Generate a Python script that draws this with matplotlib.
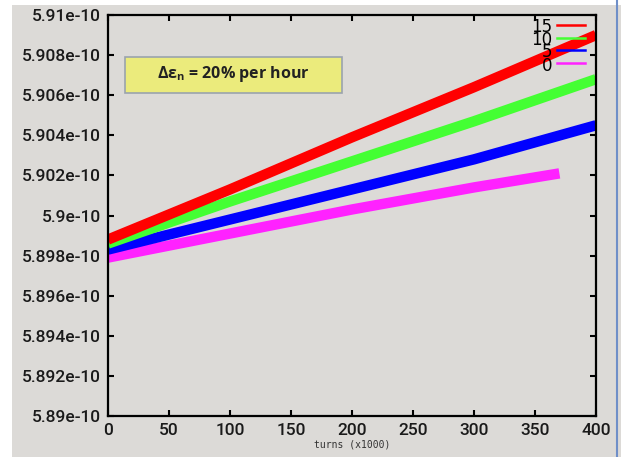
import matplotlib
matplotlib.use("Agg")
import matplotlib.pyplot as plt
from matplotlib.patches import Rectangle
from matplotlib.lines import Line2D
from matplotlib import font_manager

# ---- data (y in units of 1e-10) ----
series_names = ["15", "10", "5", "0"]
series_colors = ["#ff0000", "#44ff33", "#0000ff", "#ff22ff"]

x_15 = [0, 100, 200, 300, 400]
y_15 = [5.8988, 5.9013, 5.9039, 5.9064, 5.9090]
x_10 = [0, 100, 200, 300, 400]
y_10 = [5.8986, 5.9007, 5.9027, 5.9047, 5.9068]
x_5 = [0, 100, 200, 300, 400]
y_5 = [5.8983, 5.8998, 5.9013, 5.9028, 5.9045]
x_0 = [0, 100, 200, 300, 370]
y_0 = [5.8979, 5.8991, 5.9003, 5.9014, 5.9021]

x_ticks = [0, 50, 100, 150, 200, 250, 300, 350, 400]
y_ticks = [5.890, 5.892, 5.894, 5.896, 5.898, 5.900, 5.902, 5.904, 5.906, 5.908, 5.910]
y_tick_labels = ["5.89e-10", "5.892e-10", "5.894e-10", "5.896e-10", "5.898e-10",
                 "5.9e-10", "5.902e-10", "5.904e-10", "5.906e-10", "5.908e-10", "5.91e-10"]
x_label = "turns (x1000)"
annotation = "Δε$_\\mathrm{n}$ = 20% per hour"

scale = 1e-10

plt.rcParams["mathtext.fontset"] = "custom"
plt.rcParams["mathtext.rm"] = "Open Sans:bold"
plt.rcParams["mathtext.it"] = "Open Sans:bold"
plt.rcParams["mathtext.bf"] = "Open Sans:bold"

names = {f.name for f in font_manager.fontManager.ttflist}
narrow = "Liberation Sans Narrow" if "Liberation Sans Narrow" in names else "DejaVu Sans"
tick_font = "Roboto" if "Roboto" in names else "Liberation Sans"

bg = "#dcdad7"
fig = plt.figure(figsize=(6.21, 4.57), dpi=100, facecolor=bg)
ax = fig.add_axes([108 / 621, 1 - 416 / 457, 488 / 621, 401 / 457])
ax.set_facecolor(bg)

all_x = [x_15, x_10, x_5, x_0]
all_y = [y_15, y_10, y_5, y_0]
for xs, ys, c in zip(all_x[::-1], all_y[::-1], series_colors[::-1]):
    ax.plot(xs, [v * scale for v in ys], color=c, lw=7.5, solid_capstyle="butt")

ax.set_xlim(0, 400)
ax.set_ylim(5.890 * scale, 5.910 * scale)
ax.set_xticks(x_ticks)
ax.set_xticklabels([str(t) for t in x_ticks])
ax.set_yticks([v * scale for v in y_ticks])
ax.set_yticklabels(y_tick_labels)
ax.tick_params(direction="in", length=4, width=1.5, top=True, right=True,
               labelsize=12.5, colors="black", pad=5)
for lab in ax.get_xticklabels() + ax.get_yticklabels():
    lab.set_family(tick_font)
    lab.set_fontweight("medium")
    lab.set_color("#1a1a1a")
for sp in ax.spines.values():
    sp.set_linewidth(1.6)
    sp.set_color("black")

ax.set_xlabel(x_label, fontsize=7, family="DejaVu Sans Mono", color="#333333", labelpad=1)

# legend (gnuplot-style key)
ly = [0.975, 0.943, 0.913, 0.880]
for name, c, yy in zip(series_names, series_colors, ly):
    ax.add_line(Line2D([0.920, 0.977], [yy, yy], transform=ax.transAxes, color=c, lw=1.8))
    ax.text(0.910, yy - 0.006, name, transform=ax.transAxes, ha="right", va="center",
            fontsize=12, family=narrow, color="black")

# annotation box
ax.add_patch(Rectangle((0.035, 0.805), 0.445, 0.090, transform=ax.transAxes,
                       facecolor="#ebeb7c", edgecolor="#9aa3ad", lw=1.2, zorder=5))
ax.text(0.2575, 0.852, annotation, transform=ax.transAxes, ha="center", va="center",
        fontsize=11.5, family="Open Sans", fontweight="bold", color="#222222", zorder=6)

# screenshot frame details
fig.patches.append(Rectangle((0, 1 - 5 / 457), 1, 5 / 457, transform=fig.transFigure,
                             facecolor="white", edgecolor="none"))
fig.patches.append(Rectangle((0, 0), 12 / 621, 1, transform=fig.transFigure,
                             facecolor="white", edgecolor="none"))
fig.lines.append(Line2D([617 / 621, 617 / 621], [0, 1], transform=fig.transFigure,
                        color="#6f8fc8", lw=1.5))

fig.savefig("out.png", dpi=100, facecolor=bg)
